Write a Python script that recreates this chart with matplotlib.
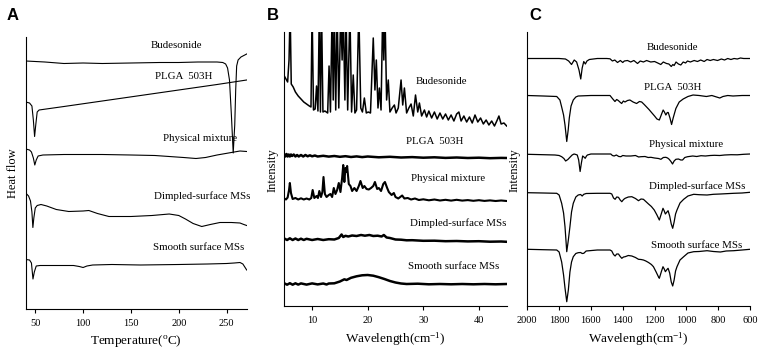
import matplotlib
matplotlib.use("Agg")
import matplotlib.pyplot as plt

plt.rcParams['font.family'] = ['Liberation Serif', 'DejaVu Serif']
plt.rcParams['mathtext.fontset'] = 'custom'
plt.rcParams['mathtext.rm'] = 'Liberation Serif'
plt.rcParams['mathtext.it'] = 'Liberation Serif:italic'

###############################################################################
#                       Data (offset traces)              #
###############################################################################
# y values are the trace positions inside each panel (larger = lower on page)

# --- A: DSC, temperature (C) ---
dsc_bud = [(40, 61), (60, 62), (80, 63.5), (100, 63), (120, 63.5), (150, 63), (180, 62.5),
           (200, 62.5), (220, 62), (240, 62), (246, 62.5), (249, 64), (251, 68), (253, 80),
           (255, 115), (256.9, 153), (258.5, 125), (259.5, 90), (260.5, 66), (262, 60),
           (265, 57), (268, 55.5), (271, 54)]
dsc_plga = [(40, 102), (44, 103), (46.5, 106), (48, 120), (49.3, 136.5), (50.5, 125), (52, 112),
            (54, 110), (80, 106.5), (120, 101), (160, 95.5), (200, 90), (240, 84.5), (271, 80)]
dsc_pm = [(40, 149), (44, 150), (46, 152), (48, 158), (49.5, 165), (51, 160), (53, 156), (58, 155),
          (80, 154.5), (120, 154.5), (150, 155), (175, 155.5), (190, 156.5), (205, 157.5),
          (218, 158.5), (228, 157.5), (240, 155), (252, 153), (258, 152), (264, 151), (271, 151.5)]
dsc_dim = [(40, 193), (43, 196), (45, 201), (46.5, 212), (47.5, 227.5), (48.5, 218), (50, 208),
           (52, 205.5), (56, 204.5), (62, 206), (72, 209.5), (85, 211.5), (100, 211), (106, 210.5),
           (115, 213.5), (127, 216.5), (150, 216.5), (172, 215.5), (190, 214), (200, 215.5),
           (207, 219), (215, 223.5), (224, 226.5), (233, 224.5), (243, 222.5), (255, 222.5),
           (264, 223), (268, 224.5), (271, 225.5)]
dsc_smo = [(40, 259.5), (44, 260), (46, 263), (47.6, 279), (49, 272), (51, 266), (55, 265.5),
           (70, 265.5), (90, 265.5), (96, 266.5), (100, 267.5), (104, 266), (110, 265), (130, 264.5),
           (160, 265), (200, 264.5), (230, 264), (250, 263.5), (258, 263), (264, 262.5), (267, 264),
           (269, 267), (271, 270)]

# --- B: XRD, 2-theta ---
xrd_bud = [(5.0, 76), (5.3, 79), (5.6, 82), (5.85, 60), (6.05, 10), (6.25, 84), (6.6, 87), (7.0, 92),
           (7.5, 96), (8.0, 99), (8.5, 102), (9.0, 104), (9.5, 106), (9.8, 107), (10.0, 10),
           (10.25, 110), (10.55, 109), (10.8, 86), (11.05, 111), (11.3, 10), (11.5, 112), (11.7, 10),
           (11.95, 112), (12.3, 111), (12.8, 113), (13.05, 66), (13.3, 112), (13.6, 10), (13.8, 100),
           (14.0, 10), (14.25, 110), (14.5, 10), (14.8, 108), (15.15, 10), (15.4, 60), (15.6, 10),
           (15.9, 100), (16.1, 10), (16.4, 110), (16.8, 10), (17.1, 112), (17.4, 75), (17.7, 113),
           (18.0, 110), (18.4, 10), (18.75, 108), (19.05, 112), (19.4, 98), (19.75, 113), (20.1, 112),
           (20.5, 113), (21.0, 38), (21.3, 90), (21.55, 60), (21.85, 108), (22.1, 88), (22.4, 110),
           (22.7, 10), (22.9, 60), (23.1, 10), (23.4, 100), (23.7, 80), (24.0, 112), (24.4, 108),
           (24.8, 105), (25.1, 113), (25.5, 108), (26.0, 80), (26.3, 105), (26.6, 88), (27.0, 113),
           (27.4, 108), (27.8, 104), (28.2, 116), (28.6, 95), (29.0, 112), (29.3, 103), (29.7, 116),
           (30.2, 110), (30.6, 117), (31.0, 111), (31.5, 118), (32.0, 112), (32.5, 119), (33.0, 113),
           (33.5, 119), (34.0, 114), (34.5, 120), (35.0, 115), (35.5, 121), (36.0, 114), (36.4, 112),
           (36.8, 121), (37.3, 116), (37.8, 122), (38.3, 117), (38.8, 123), (39.3, 115), (39.8, 122),
           (40.3, 118), (40.8, 124), (41.3, 120), (41.8, 125), (42.3, 121), (42.8, 126), (43.3, 120),
           (43.6, 116), (44.0, 124), (44.5, 123), (45.0, 126)]
xrd_plga = [(5.0, 154.5), (5.2, 156.5), (5.4, 154), (5.6, 156.5), (5.8, 154.5), (6.0, 156.5),
            (6.2, 154.5), (6.4, 156), (6.7, 154.5), (7.0, 156.5), (7.3, 155), (7.6, 156.5), (8.0, 155),
            (8.4, 156.5), (8.8, 155), (9.2, 156.3), (9.6, 155.3), (10.0, 156.3), (10.5, 155.5),
            (11.0, 156.5), (12.0, 155.8), (13, 156.6), (14, 156), (15, 156.8), (16, 156.2), (17, 157),
            (18, 156.4), (19, 157.1), (20, 156.5), (22, 157.3), (24, 156.8), (26, 157.5), (28, 157.1),
            (30, 157.7), (32, 157.3), (34, 157.9), (36, 157.5), (38, 158), (40, 157.7), (42, 158.2),
            (44, 157.9), (45, 158)]
xrd_pm = [(5.0, 198.5), (5.3, 199.5), (5.6, 197.5), (5.85, 190), (6.0, 183), (6.2, 193), (6.5, 199),
          (7.0, 198), (7.5, 199.5), (8.0, 198.3), (8.5, 199.5), (9.0, 198.5), (9.5, 199.5),
          (9.85, 198), (10.1, 190), (10.4, 198), (10.8, 196), (11.05, 198), (11.3, 191), (11.6, 197),
          (11.85, 192), (12.05, 177), (12.3, 194), (12.6, 197), (13.0, 195), (13.3, 194), (13.6, 197),
          (13.9, 188), (14.2, 194), (14.5, 190), (14.8, 183), (15.1, 192), (15.4, 178), (15.6, 165),
          (15.8, 182), (16.0, 168), (16.15, 172), (16.3, 166), (16.6, 184), (16.9, 186), (17.2, 191),
          (17.6, 188), (18.0, 191), (18.4, 186), (18.7, 181), (19.1, 188), (19.4, 186), (19.8, 189),
          (20.2, 189.5), (20.6, 188), (21.0, 186), (21.3, 182), (21.7, 189), (22.0, 188), (22.4, 191),
          (22.8, 184), (23.1, 182), (23.5, 188), (23.8, 192), (24.3, 195), (24.7, 193), (25.0, 197),
          (25.5, 198.5), (26.2, 195.5), (26.6, 198.5), (27.2, 198), (27.8, 199.5), (28.5, 198.5),
          (29.2, 200), (30, 199.3), (31, 200.3), (32, 199.5), (33, 200.5), (34, 199.8), (35, 200.6),
          (36, 199.8), (37, 200.6), (38, 200.1), (39, 200.8), (40, 200.2), (41, 200.9), (42, 200.4),
          (43, 201), (44, 200.5), (45, 201)]
xrd_dim = [(5.0, 238.5), (5.5, 240), (6, 238.3), (6.5, 240), (7, 238.5), (7.5, 240), (8, 238.7),
           (8.5, 240), (9, 238.8), (10, 240), (11, 239), (12, 240), (13, 239.2), (14, 239.5),
           (14.8, 238), (15.3, 234.5), (15.6, 237), (16, 235.8), (16.5, 236.5), (17.2, 235.5),
           (18, 236), (18.8, 235), (19.5, 235.7), (20.3, 235), (21, 236), (21.8, 235.7), (22.5, 236.5),
           (22.9, 235), (23.4, 237.5), (24, 238), (25, 239.5), (26, 239.7), (27, 240.3), (28, 240.2),
           (30, 240.8), (32, 240.7), (34, 241.2), (36, 241), (38, 241.4), (40, 241.2), (42, 241.7),
           (44, 241.5), (45, 241.8)]
xrd_smo = [(5.0, 283.3), (5.5, 284.7), (6, 283.2), (6.5, 284.7), (7, 283.3), (7.5, 284.6), (8, 283.4),
           (9, 284.6), (10, 283.4), (11, 284.4), (12, 283.5), (12.6, 284.5), (13, 283.5), (14, 283.3),
           (15, 281.5), (15.8, 279.3), (16.2, 280), (17, 277.8), (18, 276.3), (19, 275.3),
           (20, 275), (21, 275.7), (22, 277.2), (23, 279), (24, 281), (25, 282.5), (26, 283.5),
           (27, 284), (29, 283.7), (31, 284.3), (33, 284), (35, 284.3), (37, 284), (39, 284.3),
           (41, 284), (43, 284.3), (45, 284)]

# --- C: FTIR, wavenumber (cm-1) ---
ir_bud = [(2000, 58.5), (1900, 58.5), (1800, 58.5), (1760, 59), (1740, 61), (1722, 64.5), (1705, 60),
          (1690, 62), (1675, 70), (1664, 79), (1655, 68), (1645, 61.5), (1635, 64), (1625, 61),
          (1610, 59.5), (1560, 58.5), (1500, 58.5), (1480, 58.8), (1465, 61), (1450, 60),
          (1433, 62.5), (1415, 60.5), (1400, 62.5), (1390, 61), (1370, 60.5), (1350, 62),
          (1330, 60.5), (1307, 63.5), (1290, 61), (1270, 62), (1250, 60.5), (1224, 62), (1200, 61.5),
          (1180, 63), (1161, 64.5), (1145, 62), (1125, 63.5), (1110, 64), (1095, 66.5), (1085, 64.5),
          (1077, 65.5), (1065, 62), (1050, 64), (1035, 65), (1020, 62), (1005, 63), (993, 61),
          (975, 62), (951, 60.5), (930, 61.5), (910, 60), (888, 61.5), (870, 59.5), (850, 60.5),
          (830, 59.5), (804, 60.5), (780, 59), (760, 60), (740, 58.5), (720, 59.5), (700, 58.5),
          (680, 59), (660, 58), (640, 58.5), (600, 58.5)]
ir_plga = [(2000, 95.5), (1900, 96), (1815, 96.5), (1795, 100), (1784, 107), (1772, 115), (1763, 125),
           (1752, 141.5), (1743, 130), (1736, 118), (1725, 106), (1711, 100), (1695, 97), (1680, 96),
           (1600, 95.5), (1480, 95.5), (1465, 98.5), (1449, 101.5), (1438, 99.5), (1428, 100.5),
           (1418, 102), (1407, 103.5), (1396, 101), (1386, 102), (1370, 100.5), (1355, 100),
           (1335, 102), (1313, 103.5), (1295, 101.5), (1281, 102), (1265, 104.5), (1250, 107),
           (1235, 109.5), (1219, 112.5), (1200, 116), (1185, 119), (1170, 120), (1158, 115),
           (1146, 110), (1138, 112), (1129, 115), (1120, 112.5), (1114, 112.5), (1103, 118),
           (1093, 124.5), (1083, 118), (1066, 108.5), (1045, 102), (1020, 99), (990, 96.5), (958, 95),
           (920, 95.5), (874, 96.5), (840, 95.5), (810, 97), (790, 98), (770, 96.5), (740, 95.5),
           (707, 96), (650, 95.5), (600, 95.5)]
ir_pm = [(2000, 154.3), (1900, 154.7), (1826, 155), (1800, 155.5), (1784, 156.7), (1770, 158.5),
         (1759, 161), (1745, 159.5), (1732, 157.3), (1718, 155), (1706, 154), (1695, 154.5),
         (1686, 155), (1677, 160), (1668, 171.5), (1660, 163), (1652, 156), (1644, 157), (1636, 158.3),
         (1628, 156), (1622, 155), (1600, 154), (1540, 154), (1475, 154), (1465, 155.5), (1454, 156),
         (1440, 155), (1425, 156.5), (1412, 156.7), (1400, 155.5), (1380, 156), (1349, 156),
         (1320, 155.5), (1300, 157), (1286, 156.7), (1260, 156.5), (1240, 157.5), (1223, 157.3),
         (1200, 158), (1175, 158.5), (1160, 159.3), (1145, 157.5), (1129, 157.3), (1118, 158),
         (1108, 159.3), (1097, 161.5), (1087, 164), (1077, 161), (1066, 159.3), (1050, 159),
         (1035, 160), (1024, 160), (1010, 157.5), (992, 156.7), (960, 156), (935, 156.5),
         (908, 155.7), (880, 156), (850, 155.5), (824, 155.3), (790, 155.5), (760, 155),
         (719, 154.7), (680, 154.8), (640, 154.3), (600, 154)]
ir_dim = [(2000, 192.7), (1900, 193), (1815, 193.3), (1800, 195), (1784, 203.3), (1772, 213),
          (1763, 226.7), (1752, 251.7), (1742, 240), (1732, 226.7), (1722, 212), (1711, 203.3),
          (1695, 197), (1680, 195), (1665, 194.5), (1655, 196), (1645, 194.3), (1630, 193.5),
          (1560, 193.3), (1480, 193.3), (1469, 194), (1458, 198), (1448, 199.3), (1438, 197),
          (1427, 197.3), (1416, 200), (1406, 201.7), (1395, 199.5), (1385, 198.3), (1365, 197),
          (1343, 196.7), (1320, 198.5), (1301, 200.7), (1285, 199), (1270, 199.3), (1255, 201.5),
          (1238, 204), (1220, 206.5), (1202, 210), (1185, 215), (1170, 220), (1158, 214),
          (1147, 208.3), (1139, 211), (1132, 214), (1122, 212), (1115, 210.7), (1105, 216),
          (1095, 224), (1086, 228.3), (1077, 222), (1068, 214), (1059, 210), (1040, 203),
          (1017, 199.3), (990, 196), (954, 194.3), (920, 194.7), (870, 195), (830, 194.3),
          (786, 194), (750, 193.7), (702, 193.3), (650, 193), (600, 192.3)]
ir_smo = [(2000, 249.3), (1900, 249.7), (1815, 250), (1800, 252), (1784, 262), (1772, 275),
          (1763, 288), (1752, 301.7), (1742, 290), (1732, 272), (1722, 262), (1711, 256.7),
          (1695, 253.5), (1680, 252.7), (1665, 252.5), (1655, 253.5), (1645, 253.3), (1630, 251),
          (1560, 250), (1480, 250), (1469, 251), (1458, 254.5), (1448, 256), (1438, 254),
          (1427, 254), (1416, 256.5), (1406, 258.3), (1395, 257), (1385, 256.7), (1365, 255.5),
          (1343, 256), (1320, 257.5), (1301, 259.3), (1285, 259.5), (1270, 260), (1255, 261),
          (1238, 262.5), (1220, 264.5), (1207, 266.7), (1190, 272), (1175, 277), (1170, 278.3),
          (1158, 272), (1147, 266.7), (1139, 269), (1132, 271.7), (1122, 269.5), (1115, 268.3),
          (1105, 273), (1095, 282), (1086, 286), (1077, 280), (1068, 271), (1059, 266.7),
          (1040, 260), (1017, 256.7), (990, 253), (954, 251.7), (920, 251.5), (870, 250.7),
          (830, 251.5), (786, 252), (750, 251), (702, 250.7), (650, 250), (600, 249.3)]

samples = ['Budesonide', 'PLGA  503H', 'Physical mixture', 'Dimpled-surface MSs', 'Smooth surface MSs']

# label anchors (x, y) per panel
lab_A = [(198, 45), (205, 76.7), (222, 138.3), (224, 195.7), (221, 247.3)]
lab_B = [(33.3, 81), (32.1, 141.7), (34.4, 178.3), (36.2, 222.7), (35.5, 266)]
lab_C = [(1090, 47.7), (1085, 87.7), (1003, 144), (935, 186), (935, 245)]

ticks_A = [50, 100, 150, 200, 250]
ticks_B = [10, 20, 30, 40]
ticks_C = [2000, 1800, 1600, 1400, 1200, 1000, 800, 600]

###############################################################################
#                                   Figure                                    #
###############################################################################
W, H = 762, 351
fig = plt.figure(figsize=(W / 100, H / 100), dpi=100)

def px_axes(l, t, r, b):
    return fig.add_axes([l / W, 1 - b / H, (r - l) / W, (b - t) / H])

axA = px_axes(25.7, 37, 246.7, 309)
axB = px_axes(284.3, 32, 506.7, 306)
axC = px_axes(527.3, 32, 750, 306)

panels = [
    (axA, [dsc_bud, dsc_plga, dsc_pm, dsc_dim, dsc_smo], lab_A, (40, 271), (309, 37), ticks_A,
     r'Temperature($\mathregular{^o}$C)', [0.8] * 5),
    (axB, [xrd_bud, xrd_plga, xrd_pm, xrd_dim, xrd_smo], lab_B, (5, 45), (306, 32), ticks_B,
     r'Wavelength(cm$\mathregular{^{-1}}$)', [1.1, 1.8, 1.5, 1.8, 1.8]),
    (axC, [ir_bud, ir_plga, ir_pm, ir_dim, ir_smo], lab_C, (2000, 600), (306, 32), ticks_C,
     r'Wavelength(cm$\mathregular{^{-1}}$)', [0.9] * 5),
]

for ax, curves, labs, xl, yl, ticks, xlabel, widths in panels:
    for c, w in zip(curves, widths):
        xs, ys = zip(*c)
        ax.plot(xs, ys, color='black', linewidth=w)
    for (tx, ty), name in zip(labs, samples):
        ax.text(tx, ty, name, fontsize=7.8, ha='center', va='center')
    ax.set_xlim(*xl)
    ax.set_ylim(*yl)
    ax.set_xticks(ticks)
    ax.spines['top'].set_visible(False)
    ax.spines['right'].set_visible(False)
    ax.spines['left'].set_linewidth(0.8)
    ax.spines['bottom'].set_linewidth(0.8)
    ax.tick_params(axis='x', direction='out', length=3, width=0.8, labelsize=7.5, pad=4)
    ax.tick_params(axis='y', left=False, labelleft=False)
    ax.set_xlabel(xlabel, fontsize=9.5, labelpad=4)

# y labels and panel letters
fig.text(13 / W, 1 - 173 / H, 'Heat flow', rotation=90, fontsize=9, ha='center', va='center')
fig.text(273 / W, 1 - 170 / H, 'Intensity', rotation=90, fontsize=9, ha='center', va='center')
fig.text(515 / W, 1 - 170 / H, 'Intensity', rotation=90, fontsize=9, ha='center', va='center')

for lx, letter in [(7, 'A'), (267, 'B'), (529, 'C')]:
    fig.text(lx / W, 1 - 15.5 / H, letter, fontsize=12, fontweight='bold',
             family='Liberation Sans', ha='left', va='center')

fig.savefig('out.png', dpi=100)
